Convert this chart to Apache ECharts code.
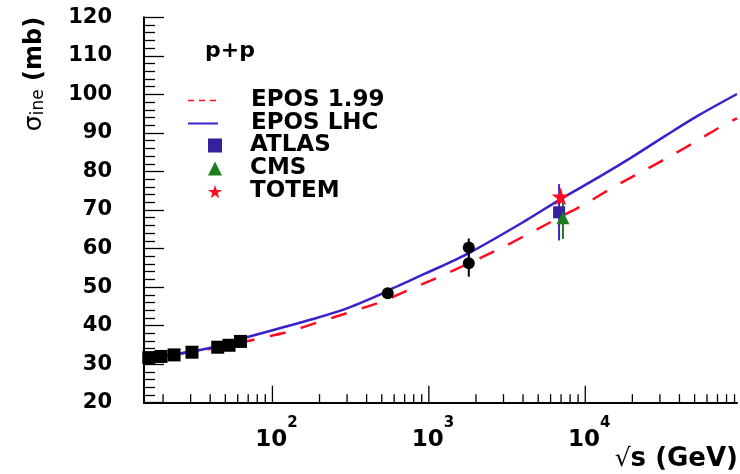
<!DOCTYPE html>
<html><head><meta charset="utf-8">
<script src="https://cdn.jsdelivr.net/npm/echarts@6/dist/echarts.min.js"></script>
<style>html,body{margin:0;padding:0;background:#fff}#c{width:740px;height:474px}</style>
</head><body><div id="c"></div>
<script>
// ---- data ----
const lowE = [16.2, 19.4, 23.5, 30.6, 44.7, 52.8, 62.5];
const lowSigma = [31.7, 32.0, 32.4, 33.1, 34.4, 34.9, 35.9];

const colliderE = [546, 1800, 1800];
const colliderSigma = [48.4, 60.3, 56.2];
const colliderErr = [0.8, 2.3, 3.5];

const atlasE = [6800]; const atlasSigma = [69.4]; const atlasErr = [7.3];
const cmsE = [7200]; const cmsSigma = [68.0]; const cmsErr = [5.5];
const totemE = [6950]; const totemSigma = [73.5]; const totemErr = [1.8];

const eposLhcE = [15.1, 20, 30, 45, 68, 111, 182, 296, 484, 589, 961, 1815, 4180, 7000, 12270, 20000, 32650, 53200, 93300];
const eposLhcSigma = [31.5, 32.1, 33.2, 34.7, 36.9, 39.3, 41.7, 44.4, 48.0, 49.7, 53.6, 58.9, 67.3, 72.9, 78.6, 83.8, 89.3, 94.6, 100.1];

const epos199E = [15.1, 20, 27, 45, 62, 79, 126, 200, 319, 497, 757, 1186, 2826, 4325, 7000, 10000, 14930, 22640, 34360, 51500, 76900, 93300];
const epos199Sigma = [31.4, 32.0, 32.9, 34.3, 35.5, 36.5, 38.4, 41.0, 43.6, 46.2, 49.4, 52.8, 59.9, 63.8, 68.3, 71.6, 75.8, 79.8, 83.8, 87.9, 92.1, 93.8];

const xMajorTicks = [100, 1000, 10000];
const xMinorTicks = [20,30,40,50,60,70,80,90,200,300,400,500,600,700,800,900,2000,3000,4000,5000,6000,7000,8000,9000,20000,30000,40000,50000,60000,70000,80000,90000];

const X_MIN = 15.1, X_MAX = 93300, Y_MIN = 20, Y_MAX = 120;
const FONT = 'DejaVu Sans';
const STAR = 'path://M50,2 L61.2,36.4 L97.6,36.4 L68.2,57.7 L79.4,92.1 L50,70.9 L20.6,92.1 L31.8,57.7 L2.4,36.4 L38.8,36.4 Z';

const zip = (a, b) => a.map((v, i) => [v, b[i]]);
const errData = (e, s, err) => e.map((v, i) => [v, s[i] - err[i], s[i] + err[i]]);

function errSeries(data, color) {
  return {
    type: 'custom', data: data, z: 3, silent: true, clip: false,
    renderItem: function (params, api) {
      const lo = api.coord([api.value(0), api.value(1)]);
      const hi = api.coord([api.value(0), api.value(2)]);
      return { type: 'line', shape: { x1: lo[0], y1: lo[1], x2: hi[0], y2: hi[1] },
        style: { stroke: color, lineWidth: 2 } };
    }
  };
}
function tickSeries(vals, len) {
  return {
    type: 'custom', data: vals.map(v => [v, Y_MIN]), z: 6, silent: true, clip: false,
    renderItem: function (params, api) {
      const p = api.coord([api.value(0), api.value(1)]);
      return { type: 'line', shape: { x1: p[0], y1: p[1], x2: p[0], y2: p[1] - len },
        style: { stroke: '#000', lineWidth: 1.3 } };
    }
  };
}

const chart = echarts.init(document.getElementById('c'), null, { renderer: 'canvas' });
chart.setOption({
  animation: false,
  backgroundColor: '#fff',
  textStyle: { fontFamily: FONT },
  title: { text: 'p+p', left: 205, top: 40, padding: 0,
    textStyle: { fontFamily: FONT, fontWeight: 'bold', fontSize: 22, color: '#000' } },
  grid: { left: 144, right: 2, top: 17.3, bottom: 71.3, containLabel: false },
  legend: [
    { orient: 'vertical', left: 187, top: 89, padding: 0, itemWidth: 30, itemHeight: 14, itemGap: 0, selectedMode: false,
      textStyle: { fontFamily: FONT, fontWeight: 'bold', fontSize: 23, color: '#000', lineHeight: 22, padding: [0, 0, 0, 28] },
      data: [
        { name: 'EPOS 1.99', itemStyle: { opacity: 0 }, lineStyle: { type: [6, 5], width: 1.5, color: '#ff0a1e' } },
        { name: 'EPOS LHC', itemStyle: { opacity: 0 }, lineStyle: { width: 2, color: '#3b21c9' } }
      ] },
    { orient: 'vertical', left: 208, top: 134, padding: 0, itemWidth: 14, itemHeight: 14, itemGap: 0, selectedMode: false,
      textStyle: { fontFamily: FONT, fontWeight: 'bold', fontSize: 23, color: '#000', lineHeight: 22, padding: [0, 0, 0, 23] },
      data: [
        { name: 'ATLAS', icon: 'rect', itemStyle: { opacity: 1 } },
        { name: 'CMS', icon: 'triangle', itemStyle: { opacity: 1 } },
        { name: 'TOTEM', icon: STAR, itemStyle: { opacity: 1 } }
      ] }
  ],
  xAxis: {
    type: 'log', logBase: 10, min: X_MIN, max: X_MAX,
    axisLine: { onZero: false, lineStyle: { color: '#000', width: 2 } },
    axisTick: { show: false },
    splitLine: { show: false },
    axisLabel: {
      margin: 13, padding: [0, 0, 0, 8],
      formatter: function (v) {
        const l = Math.log10(v), e = Math.round(l);
        if (Math.abs(l - e) > 1e-6) return '';
        return '{b|10}{s|' + e + '}';
      },
      rich: {
        b: { fontFamily: FONT, fontWeight: 'bold', fontSize: 23, color: '#000', lineHeight: 36, verticalAlign: 'bottom' },
        s: { fontFamily: FONT, fontWeight: 'bold', fontSize: 15, color: '#000', lineHeight: 6, verticalAlign: 'top' }
      }
    }
  },
  yAxis: {
    type: 'value', min: Y_MIN, max: Y_MAX, interval: 10,
    axisLine: { show: true, lineStyle: { color: '#000', width: 2 } },
    axisTick: { show: true, inside: true, length: 20, lineStyle: { color: '#000', width: 1.3 } },
    minorTick: { show: true, splitNumber: 5, length: 11, lineStyle: { color: '#000', width: 1.3 } },
    splitLine: { show: false },
    axisLabel: { margin: 32, fontFamily: FONT, fontWeight: 'bold', fontSize: 21, color: '#000' }
  },
  graphic: [
    { type: 'text', x: 30, y: 74, rotation: Math.PI / 2, silent: true,
      style: { text: '{g|σ}{sub|ine}{n| (mb)}', align: 'center', verticalAlign: 'middle',
        rich: {
          g: { fontFamily: FONT, fontSize: 25, fill: '#000', lineHeight: 34, verticalAlign: 'bottom' },
          sub: { fontFamily: FONT, fontSize: 17, fill: '#000', lineHeight: 4, verticalAlign: 'bottom' },
          n: { fontFamily: FONT, fontWeight: 'bold', fontSize: 24, fill: '#000', lineHeight: 34, verticalAlign: 'bottom' }
        } } },
    { type: 'text', x: 738, y: 459, silent: true,
      style: { text: '{r|√}{b|s (GeV)}', align: 'right', verticalAlign: 'middle',
        rich: {
          r: { fontFamily: FONT, fontSize: 25, fill: '#000' },
          b: { fontFamily: FONT, fontWeight: 'bold', fontSize: 26, fill: '#000' }
        } } }
  ],
  series: [
    { name: 'EPOS 1.99', type: 'line', data: zip(epos199E, epos199Sigma), symbol: 'none', smooth: 0.3, z: 2,
      lineStyle: { color: '#ff0a1e', width: 2.5, type: [16, 16] }, itemStyle: { color: '#ff0a1e' } },
    { name: 'EPOS LHC', type: 'line', data: zip(eposLhcE, eposLhcSigma), symbol: 'none', smooth: 0.3, z: 2,
      lineStyle: { color: '#3b21c9', width: 2.5 }, itemStyle: { color: '#3b21c9' } },
    errSeries(errData(colliderE, colliderSigma, colliderErr), '#000'),
    errSeries(errData(atlasE, atlasSigma, atlasErr), '#3b21c9'),
    errSeries(errData(cmsE, cmsSigma, cmsErr), '#1e7d1e'),
    errSeries(errData(totemE, totemSigma, totemErr), '#ff0a1e'),
    { name: 'fixed', type: 'scatter', data: zip(lowE, lowSigma), symbol: 'rect', symbolSize: 13, z: 4,
      itemStyle: { color: '#000', opacity: 1 } },
    { name: 'collider', type: 'scatter', data: zip(colliderE, colliderSigma), symbol: 'circle', symbolSize: 12, z: 4,
      itemStyle: { color: '#000', opacity: 1 } },
    { name: 'ATLAS', type: 'scatter', data: zip(atlasE, atlasSigma), symbol: 'rect', symbolSize: 12, z: 4,
      itemStyle: { color: '#33219e', opacity: 1 } },
    { name: 'CMS', type: 'scatter', data: zip(cmsE, cmsSigma), symbol: 'triangle', symbolSize: 13, z: 5,
      itemStyle: { color: '#1e7d1e', opacity: 1 } },
    { name: 'TOTEM', type: 'scatter', data: zip(totemE, totemSigma), symbol: STAR, symbolSize: 18, z: 5,
      itemStyle: { color: '#ff0a1e', opacity: 1 } },
    tickSeries(xMajorTicks, 17),
    tickSeries(xMinorTicks, 8.5)
  ]
});
</script></body></html>
